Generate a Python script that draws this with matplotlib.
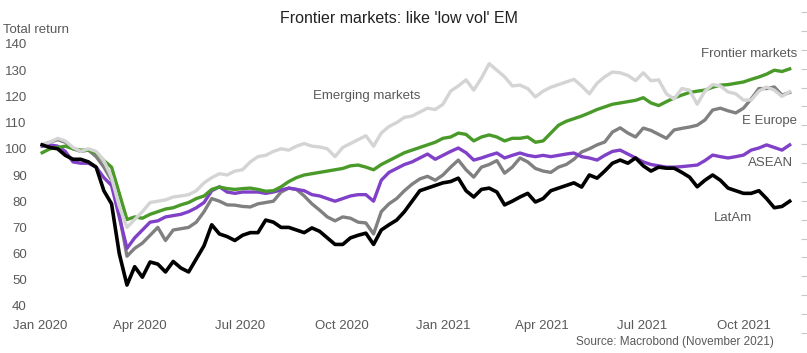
import pandas as pd
import matplotlib
matplotlib.use("Agg")
import matplotlib.pyplot as plt
import matplotlib.dates as mdates

plt.rcParams['font.family'] = ['Liberation Sans', 'DejaVu Sans']

# weekly total return index, Jan 2020 = 100
dates = pd.date_range('2020-01-03', periods=98, freq='W-FRI')

em = [101.5, 102.5, 104, 103, 100.5, 99, 100, 99, 95.5, 89,
      78, 70, 73, 76, 79.5, 80, 80.5, 81.6, 82, 82.5,
      84, 87, 89, 90.5, 90, 91.5, 92, 95, 97, 97.5,
      99, 100, 99.5, 101, 102, 101, 100.7, 100, 97, 100.5,
      102, 103.5, 105, 101, 106, 108.5, 110, 112, 112.5, 114,
      115.5, 115, 117, 122, 124, 126.3, 122.4, 127, 132.5, 130,
      127.5, 124, 124.3, 123, 119.8, 122, 123.5, 124.5, 125.5, 126.5,
      124, 121, 125, 127.5, 129.3, 129, 128, 126, 129, 126,
      126.3, 121, 119, 123, 122.4, 117, 122, 124.5, 124, 121.7,
      121, 118.6, 118.6, 122, 123.6, 122.4, 120, 121.8]

frontier = [98.5, 100, 100.5, 101, 100, 99.5, 99.5, 98.5, 95.5, 93,
            83, 73, 74, 73.5, 75, 76, 77, 77.5, 78.6, 79.5,
            81, 82, 84.5, 85.4, 84.8, 84.5, 84.8, 85, 84.5, 83.8,
            84, 85.5, 87.5, 89, 90, 90.5, 91, 91.5, 92, 92.5,
            93.5, 93.8, 93, 92, 94, 95.5, 97, 98.5, 99.5, 100.5,
            101.5, 102.5, 104, 104.5, 106, 105.5, 103, 104.5, 105.3, 104.5,
            103, 104, 104, 104.5, 102.5, 103, 106, 109, 110.5, 111.5,
            112.5, 113.7, 115, 116, 117, 117.5, 118, 118.5, 119.5, 117.5,
            116.5, 118, 119.4, 120.5, 121.5, 122, 122.4, 123.5, 124.3, 124.5,
            125, 125.5, 126.5, 127.4, 128.5, 130, 129.5, 130.5]

e_europe = [101.5, 102.5, 103.5, 102.5, 100, 99, 99.5, 97, 93, 88,
            75, 59, 62, 64, 67, 70, 65, 69, 69.5, 70,
            72, 76, 81, 80, 78.6, 78.5, 78, 77.8, 79, 79.5,
            80, 83.5, 85, 84.5, 82, 79, 76.6, 74, 72.5, 74,
            73.5, 72, 71.7, 67.5, 76, 79, 81, 84, 86.5, 88.5,
            89.5, 88, 90, 93, 95.7, 92, 89.2, 93, 94, 95.5,
            90.7, 93, 96.5, 95, 92.5, 91.5, 91, 93, 94, 96,
            98.8, 100, 101.5, 102.6, 106.4, 108, 106, 104.5, 107.9, 107,
            105.5, 104, 107.2, 107.8, 108.3, 109, 111, 114.8, 115.5, 114.5,
            113.7, 115.5, 119, 123, 123, 123.6, 120.5, 121.5]

asean = [101, 101.5, 101, 99, 95, 94.5, 94.5, 93, 89, 86,
         74, 62, 66, 69, 72, 72.5, 74, 74.5, 75, 76,
         77.5, 79.5, 84, 85.5, 83.5, 83, 83.5, 83.5, 83.5, 83,
         83.5, 84.3, 85, 84.5, 84, 82.5, 82, 81, 80, 81,
         82, 82.5, 82.5, 80, 88, 91, 92.5, 94, 95, 96.5,
         98, 96, 97.5, 99, 100.3, 98.5, 95.7, 96.5, 97.5, 98.4,
         96.5, 97.5, 98.4, 97.5, 97, 97.5, 97, 97.5, 98, 98.4,
         97, 96.5, 95.7, 97.5, 99, 99.5, 98, 96.5, 95, 94,
         93.5, 93, 93, 93.2, 93.5, 93.8, 95.5, 97.6, 97, 96.5,
         97, 97.6, 99.5, 100.3, 101.5, 100.5, 99.5, 101.5]

latam = [101.5, 100.5, 100, 97.5, 96, 96, 95, 93, 84, 79,
         60, 48, 55, 51, 56.8, 56, 53, 57, 54.5, 53,
         58, 63, 71, 67.5, 66.5, 65, 67, 68, 68, 72.8,
         72, 70, 70, 69, 68, 69.8, 68.5, 66, 63.5, 63.5,
         66, 67, 67.8, 63.5, 69, 71, 72.8, 76, 80, 84,
         85, 86, 87, 87.5, 88.8, 84, 81.6, 84.5, 85, 83.5,
         78.6, 80, 81.6, 83, 79.7, 81, 84, 85, 86, 87,
         85.4, 90, 88.8, 91.5, 94.5, 95.7, 94.5, 96.5, 93.5, 91.5,
         93, 92.6, 92.6, 91, 89.2, 85.5, 88, 90, 88, 85,
         84, 83, 83, 84, 81, 77.5, 78, 80]

fig = plt.figure(figsize=(8.07, 3.53), dpi=100)
ax = fig.add_axes([40 / 807, 47 / 353, 753 / 807, 262 / 353])

ax.plot(dates, e_europe, color='#808080', lw=2.4)
ax.plot(dates, asean, color='#8040c8', lw=2.4)
ax.plot(dates, frontier, color='#4a9a2a', lw=2.4)
ax.plot(dates, em, color='#d4d4d4', lw=2.4)
ax.plot(dates, latam, color='#000000', lw=2.6)

ax.set_ylim(40, 140)
ax.set_xlim(pd.Timestamp('2020-01-01'), pd.Timestamp('2021-11-15'))
ax.set_yticks(range(40, 141, 10))
ax.xaxis.set_major_locator(mdates.MonthLocator(bymonth=[1, 4, 7, 10]))
ax.xaxis.set_major_formatter(mdates.DateFormatter('%b %Y'))
ax.tick_params(axis='both', length=0, labelsize=9.5, labelcolor='#595959')
ax.tick_params(axis='y', pad=9.5)
ax.tick_params(axis='x', pad=10)
for s in ax.spines.values():
    s.set_visible(False)

# faint tick marks along the right edge
rax = fig.add_axes([0.98, 20 / 353, 0.02, 321 / 353])
rax.patch.set_visible(False)
for s in rax.spines.values():
    s.set_visible(False)
rax.set_xticks([])
rax.set_ylim(0, 17)
rax.set_yticks(range(18))
rax.yaxis.tick_right()
rax.tick_params(axis='y', direction='in', length=4, color='#c8c8c8', labelright=False)

fig.text(0.495, 0.948, "Frontier markets: like 'low vol' EM", ha='center', va='center',
         fontsize=11.5, color='#222222')
fig.text(0.004, 0.915, 'Total return', ha='left', va='center', fontsize=9.5, color='#595959')

lab = dict(fontsize=9.5, color='#595959', va='center')
fig.text(313 / 807, 1 - 96 / 353, 'Emerging markets', ha='left', **lab)
fig.text(797 / 807, 1 - 54 / 353, 'Frontier markets', ha='right', **lab)
fig.text(797 / 807, 1 - 121 / 353, 'E Europe', ha='right', **lab)
fig.text(793 / 807, 1 - 163 / 353, 'ASEAN', ha='right', **lab)
fig.text(752 / 807, 1 - 218 / 353, 'LatAm', ha='right', **lab)
fig.text(774 / 807, 1 - 342 / 353, 'Source: Macrobond (November 2021)', ha='right',
         va='center', fontsize=8.5, color='#595959')

fig.savefig('out.png', dpi=100)
